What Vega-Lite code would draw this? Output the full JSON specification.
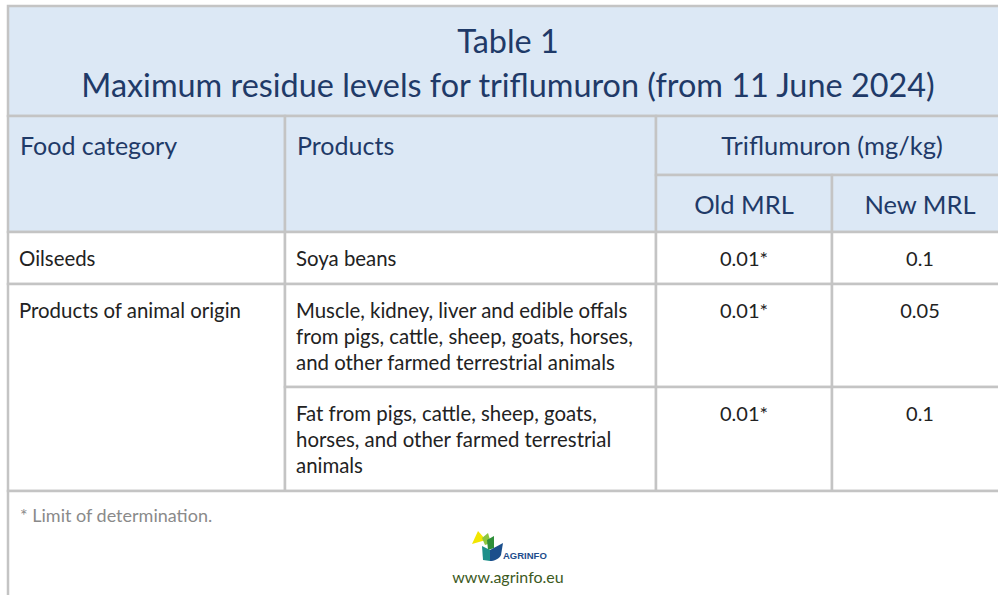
{
  "$schema": "https://vega.github.io/schema/vega-lite/v6.json",
  "width": 998,
  "height": 595,
  "autosize": "none",
  "padding": 0,
  "background": "#ffffff",
  "config": {"view": {"stroke": null}},
  "datasets": {
    "cells": [
      {"part": "head", "c0": 0, "c1": 4, "r0": 0, "r1": 1, "ax": 0, "align": "none", "text": ""},
      {"part": "head", "c0": 0, "c1": 1, "r0": 1, "r1": 3, "ax": 0, "align": "left", "text": "Food category"},
      {"part": "head", "c0": 1, "c1": 2, "r0": 1, "r1": 3, "ax": 1, "align": "left", "text": "Products"},
      {"part": "head", "c0": 2, "c1": 4, "r0": 1, "r1": 2, "ax": 3, "align": "center", "text": "Triflumuron (mg/kg)"},
      {"part": "head", "c0": 2, "c1": 3, "r0": 2, "r1": 3, "ax": 2.5, "align": "center", "text": "Old MRL"},
      {"part": "head", "c0": 3, "c1": 4, "r0": 2, "r1": 3, "ax": 3.5, "align": "center", "text": "New MRL"},
      {"part": "body", "c0": 0, "c1": 1, "r0": 3, "r1": 4, "ax": 0, "align": "left", "text": "Oilseeds"},
      {"part": "body", "c0": 1, "c1": 2, "r0": 3, "r1": 4, "ax": 1, "align": "left", "text": "Soya beans"},
      {"part": "body", "c0": 2, "c1": 3, "r0": 3, "r1": 4, "ax": 2.5, "align": "center", "text": "0.01*"},
      {"part": "body", "c0": 3, "c1": 4, "r0": 3, "r1": 4, "ax": 3.5, "align": "center", "text": "0.1"},
      {"part": "body", "c0": 0, "c1": 1, "r0": 4, "r1": 6, "ax": 0, "align": "left", "text": "Products of animal origin"},
      {"part": "body", "c0": 1, "c1": 2, "r0": 4, "r1": 5, "ax": 1, "align": "left", "text": "Muscle, kidney, liver and edible offals\nfrom pigs, cattle, sheep, goats, horses,\nand other farmed terrestrial animals"},
      {"part": "body", "c0": 2, "c1": 3, "r0": 4, "r1": 5, "ax": 2.5, "align": "center", "text": "0.01*"},
      {"part": "body", "c0": 3, "c1": 4, "r0": 4, "r1": 5, "ax": 3.5, "align": "center", "text": "0.05"},
      {"part": "body", "c0": 1, "c1": 2, "r0": 5, "r1": 6, "ax": 1, "align": "left", "text": "Fat from pigs, cattle, sheep, goats,\nhorses, and other farmed terrestrial\nanimals"},
      {"part": "body", "c0": 2, "c1": 3, "r0": 5, "r1": 6, "ax": 2.5, "align": "center", "text": "0.01*"},
      {"part": "body", "c0": 3, "c1": 4, "r0": 5, "r1": 6, "ax": 3.5, "align": "center", "text": "0.1"},
      {"part": "note", "c0": 0, "c1": 4, "r0": 6, "r1": 7, "ax": 0, "align": "left", "text": "* Limit of determination."}
    ],
    "page": [
      {"item": "title", "text": "Table 1\nMaximum residue levels for triflumuron (from 11 June 2024)"},
      {"item": "url", "text": "www.agrinfo.eu"},
      {"item": "brand", "text": "AGRINFO"}
    ]
  },
  "layer": [
    {
      "data": {"name": "cells"},
      "layer": [
        {
          "mark": {"type": "rect", "stroke": "#c4c4c4", "strokeWidth": 2.5},
          "encoding": {
            "x": {"field": "c0", "type": "quantitative", "axis": null,
                  "scale": {"domain": [0, 1, 2, 3, 4], "range": [8, 285, 656, 832, 1008], "nice": false, "zero": false}},
            "x2": {"field": "c1"},
            "y": {"field": "r0", "type": "quantitative", "axis": null,
                  "scale": {"domain": [0, 1, 2, 3, 4, 5, 6, 7], "range": [6, 116, 175, 232, 284, 387, 491, 640], "nice": false, "zero": false}},
            "y2": {"field": "r1"},
            "fill": {"field": "part", "type": "nominal", "legend": null,
                     "scale": {"domain": ["head", "body", "note"], "range": ["#dce8f5", "#ffffff", "#ffffff"]}}
          }
        },
        {
          "transform": [{"filter": "datum.part == 'head' && datum.align == 'left'"}],
          "mark": {"type": "text", "align": "left", "baseline": "alphabetic", "font": "Lato", "fontSize": 25, "color": "#1f3a68", "xOffset": 12, "yOffset": 39},
          "encoding": {
            "x": {"field": "ax", "type": "quantitative", "axis": null},
            "y": {"field": "r0", "type": "quantitative", "axis": null},
            "text": {"field": "text", "type": "nominal"}
          }
        },
        {
          "transform": [{"filter": "datum.part == 'head' && datum.align == 'center'"}],
          "mark": {"type": "text", "align": "center", "baseline": "alphabetic", "font": "Lato", "fontSize": 25.5, "color": "#1f3a68", "yOffset": 38.5},
          "encoding": {
            "x": {"field": "ax", "type": "quantitative", "axis": null},
            "y": {"field": "r0", "type": "quantitative", "axis": null},
            "text": {"field": "text", "type": "nominal"}
          }
        },
        {
          "transform": [{"filter": "datum.part == 'body' && datum.align == 'left'"}],
          "mark": {"type": "text", "align": "left", "baseline": "alphabetic", "font": "Lato", "fontSize": 20.4, "color": "#222222", "lineBreak": "\n", "lineHeight": 26, "xOffset": 11, "yOffset": 33.5},
          "encoding": {
            "x": {"field": "ax", "type": "quantitative", "axis": null},
            "y": {"field": "r0", "type": "quantitative", "axis": null},
            "text": {"field": "text", "type": "nominal"}
          }
        },
        {
          "transform": [{"filter": "datum.part == 'body' && datum.align == 'center'"}],
          "mark": {"type": "text", "align": "center", "baseline": "alphabetic", "font": "Lato", "fontSize": 20, "color": "#222222", "yOffset": 33.5},
          "encoding": {
            "x": {"field": "ax", "type": "quantitative", "axis": null},
            "y": {"field": "r0", "type": "quantitative", "axis": null},
            "text": {"field": "text", "type": "nominal"}
          }
        },
        {
          "transform": [{"filter": "datum.part == 'note'"}],
          "mark": {"type": "text", "align": "left", "baseline": "alphabetic", "font": "Lato", "fontSize": 18, "color": "#8a8a8a", "xOffset": 12, "yOffset": 31},
          "encoding": {
            "x": {"field": "ax", "type": "quantitative", "axis": null},
            "y": {"field": "r0", "type": "quantitative", "axis": null},
            "text": {"field": "text", "type": "nominal"}
          }
        }
      ]
    },
    {
      "data": {"name": "page"},
      "layer": [
        {
          "transform": [{"filter": "datum.item == 'title'"}],
          "mark": {"type": "text", "align": "center", "baseline": "alphabetic", "font": "Lato", "fontSize": 32.4, "color": "#1f3a68", "lineBreak": "\n", "lineHeight": 44, "yOffset": 47},
          "encoding": {
            "x": {"datum": 0.5, "type": "quantitative", "axis": null,
                  "scale": {"domain": [0, 1], "range": [8, 1008], "nice": false, "zero": false}},
            "y": {"datum": 0, "type": "quantitative", "axis": null},
            "text": {"field": "text", "type": "nominal"}
          }
        },
        {
          "transform": [{"filter": "datum.item == 'url'"}],
          "mark": {"type": "text", "align": "center", "baseline": "alphabetic", "font": "Lato", "fontSize": 16, "color": "#3d5a1e", "yOffset": 92},
          "encoding": {
            "x": {"datum": 0.5, "type": "quantitative", "axis": null},
            "y": {"datum": 6, "type": "quantitative", "axis": null},
            "text": {"field": "text", "type": "nominal"}
          }
        },
        {
          "transform": [{"filter": "datum.item == 'brand'"}],
          "mark": {"type": "text", "align": "left", "baseline": "alphabetic", "font": "Liberation Sans", "fontWeight": "bold", "fontSize": 9.5, "color": "#1e4d8c", "xOffset": -5, "yOffset": 68},
          "encoding": {
            "x": {"datum": 0.5, "type": "quantitative", "axis": null},
            "y": {"datum": 6, "type": "quantitative", "axis": null},
            "text": {"field": "text", "type": "nominal"}
          }
        },
        {
          "transform": [{"filter": "datum.item == 'brand'"}],
          "mark": {"type": "point", "shape": "M-36,-2 L-30,-15 L-22,-6 Z", "size": 4, "filled": true, "fill": "#f2e600", "strokeWidth": 0, "opacity": 1, "yOffset": 55},
          "encoding": {
            "x": {"datum": 0.5, "type": "quantitative", "axis": null},
            "y": {"datum": 6, "type": "quantitative", "axis": null}
          }
        },
        {
          "transform": [{"filter": "datum.item == 'brand'"}],
          "mark": {"type": "point", "shape": "M-26,-8 L-20,-13 L-17,-3 L-23,-1 Z", "size": 4, "filled": true, "fill": "#8cc63f", "strokeWidth": 0, "opacity": 1, "yOffset": 55},
          "encoding": {
            "x": {"datum": 0.5, "type": "quantitative", "axis": null},
            "y": {"datum": 6, "type": "quantitative", "axis": null}
          }
        },
        {
          "transform": [{"filter": "datum.item == 'brand'"}],
          "mark": {"type": "point", "shape": "M-21,-6 L-14,-10 L-14,2 L-20,4 Z", "size": 4, "filled": true, "fill": "#2f8f3a", "strokeWidth": 0, "opacity": 1, "yOffset": 55},
          "encoding": {
            "x": {"datum": 0.5, "type": "quantitative", "axis": null},
            "y": {"datum": 6, "type": "quantitative", "axis": null}
          }
        },
        {
          "transform": [{"filter": "datum.item == 'brand'"}],
          "mark": {"type": "point", "shape": "M-26,0 L-18,4 L-18,15 L-25,14 Z", "size": 4, "filled": true, "fill": "#1d8f8a", "strokeWidth": 0, "opacity": 1, "yOffset": 55},
          "encoding": {
            "x": {"datum": 0.5, "type": "quantitative", "axis": null},
            "y": {"datum": 6, "type": "quantitative", "axis": null}
          }
        },
        {
          "transform": [{"filter": "datum.item == 'brand'"}],
          "mark": {"type": "point", "shape": "M-18,4 L-5,-3 L-7,9 C-9,13 -14,15 -18,15 Z", "size": 4, "filled": true, "fill": "#1b4f8c", "strokeWidth": 0, "opacity": 1, "yOffset": 55},
          "encoding": {
            "x": {"datum": 0.5, "type": "quantitative", "axis": null},
            "y": {"datum": 6, "type": "quantitative", "axis": null}
          }
        }
      ]
    }
  ],
  "resolve": {"scale": {"x": "independent"}}
}
